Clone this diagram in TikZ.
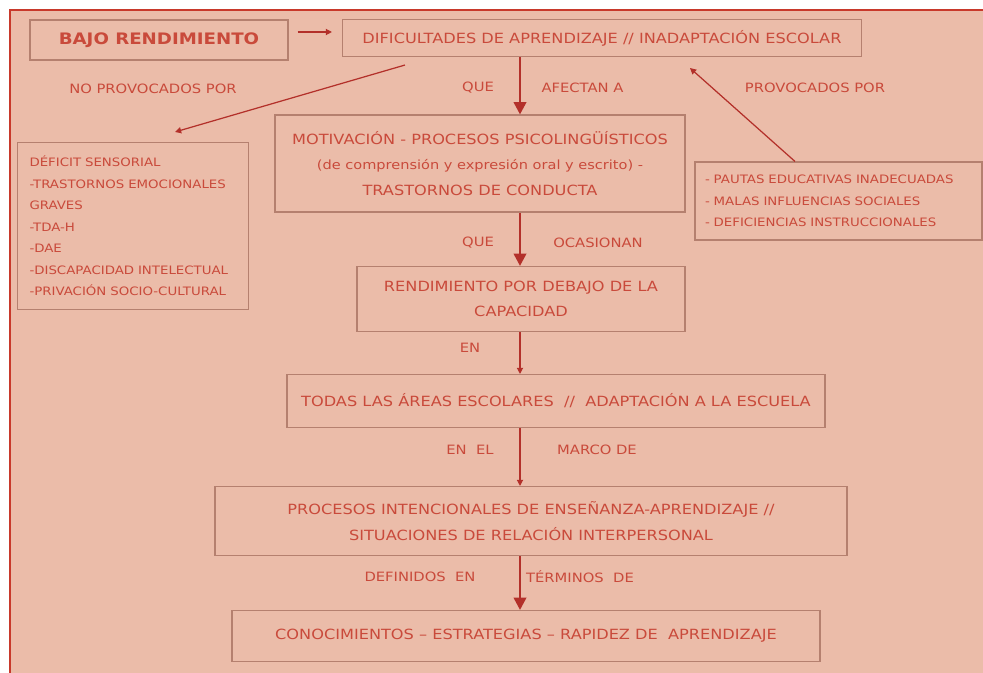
\documentclass[tikz,border=0pt]{standalone}
\usepackage{fontspec}
\setmainfont{DejaVu Sans}[FakeStretch=1.15]
\usetikzlibrary{arrows.meta,calc}
\definecolor{fondo}{HTML}{EBBCA9}
\definecolor{marco}{HTML}{C8392B}
\definecolor{letra}{HTML}{C94A3B}
\definecolor{borde}{HTML}{B5806F}
\definecolor{flecha}{HTML}{B3302A}
\tikzset{
	caja/.style={draw=borde, line width=0.6pt, text=letra, align=center, inner sep=2pt, font=\fontsize{8}{14.5}\selectfont},
	lista/.style={caja, align=left, inner ysep=2pt, font=\fontsize{6.6}{12.2}\selectfont},
	rotulo/.style={text=letra, inner sep=1pt, font=\fontsize{7.3}{10}\selectfont},
	gruesa/.style={draw=flecha, line width=1.5pt, -{Triangle[width=7pt,length=7pt]}},
	fina/.style={draw=flecha, line width=0.7pt, -{Triangle[width=3.5pt,length=3.5pt]}},
}
\begin{document}
\begin{tikzpicture}
			%%%%% START %%%%%
			\useasboundingbox (0, 0) rectangle (19.66, -13.46);
			\fill[fondo] (0.2, -0.2) rectangle (19.66, -13.46);
			\draw[marco, line width=1.7pt] (0.2, -13.46) -- (0.2, -0.2) -- (19.66, -0.2);
			
			% cajas
			\node[caja, minimum width=5.16cm, minimum height=0.8cm, font=\fontsize{9}{11}\selectfont\bfseries] (bajo) at (3.18, -0.8) {BAJO RENDIMIENTO};
			\node[caja, minimum width=10.38cm, minimum height=0.74cm] (dific) at (12.04, -0.76) {DIFICULTADES DE APRENDIZAJE // INADAPTACIÓN ESCOLAR};
			\node[caja, minimum width=8.2cm, minimum height=1.94cm] (motiv) at (9.6, -3.27) {MOTIVACIÓN - PROCESOS PSICOLINGÜÍSTICOS\\{\fontsize{7.2}{14.5}\selectfont(de comprensión y expresión oral y escrito) -}\\TRASTORNOS DE CONDUCTA};
			\node[lista, minimum height=3.34cm, inner xsep=0.24cm, text width=4.14cm] (defic) at (2.66, -4.52) {DÉFICIT SENSORIAL\\-TRASTORNOS EMOCIONALES\\GRAVES\\-TDA-H\\-DAE\\-DISCAPACIDAD INTELECTUAL\\-PRIVACIÓN SOCIO-CULTURAL};
			\node[lista, minimum height=1.56cm, inner xsep=0.2cm, text width=5.34cm] (pautas) at (16.77, -4.02) {- PAUTAS EDUCATIVAS INADECUADAS\\- MALAS INFLUENCIAS SOCIALES\\- DEFICIENCIAS INSTRUCCIONALES};
			\node[caja, minimum width=6.56cm, minimum height=1.3cm] (rend) at (10.42, -5.98) {RENDIMIENTO POR DEBAJO DE LA\\CAPACIDAD};
			\node[caja, minimum width=10.76cm, minimum height=1.06cm] (todas) at (11.12, -8.02) {TODAS LAS ÁREAS ESCOLARES \ // \ ADAPTACIÓN A LA ESCUELA};
			\node[caja, minimum width=12.64cm, minimum height=1.38cm] (proc) at (10.62, -10.42) {PROCESOS INTENCIONALES DE ENSEÑANZA-APRENDIZAJE //\\SITUACIONES DE RELACIÓN INTERPERSONAL};
			\node[caja, minimum width=11.76cm, minimum height=1.02cm] (conoc) at (10.52, -12.72) {CONOCIMIENTOS -- ESTRATEGIAS -- RAPIDEZ DE \ APRENDIZAJE};
			
			% rotulos
			\node[rotulo] (noprov) at (3.06, -1.78) {NO PROVOCADOS POR};
			\node[rotulo] (que1) at (9.56, -1.76) {QUE};
			\node[rotulo] (afectan) at (11.65, -1.76) {AFECTAN A};
			\node[rotulo] (prov) at (16.3, -1.76) {PROVOCADOS POR};
			\node[rotulo] (que2) at (9.56, -4.86) {QUE};
			\node[rotulo] (ocasionan) at (11.96, -4.86) {OCASIONAN};
			\node[rotulo] (en) at (9.4, -6.96) {EN};
			\node[rotulo] (enel) at (9.4, -9.0) {EN \ EL};
			\node[rotulo] (marcode) at (11.94, -9.0) {MARCO DE};
			\node[rotulo] (definidos) at (8.4, -11.54) {DEFINIDOS \ EN};
			\node[rotulo] (terminos) at (11.6, -11.54) {TÉRMINOS \ DE};
			
			% flechas
			\coordinate (eje) at (10.4, 0);
			\draw[fina] ([xshift=0.18cm, yshift=0.16cm]bajo.east) -- ([xshift=-0.2cm, yshift=0.12cm]dific.west);
			\draw[fina] ([shift={(-3.94, -0.16)}]dific.south) -- ([shift={(0.84, 0.2)}]defic.north);
			\draw[fina] ([xshift=-0.87cm]pautas.north) -- ([shift={(1.76, -0.22)}]dific.south);
			\draw[gruesa] (dific.south -| eje) -- (motiv.north -| eje);
			\draw[gruesa] (motiv.south -| eje) -- (rend.north -| eje);
			\draw[fina] (rend.south -| eje) -- (todas.north -| eje);
			\draw[fina] (todas.south -| eje) -- (proc.north -| eje);
			\draw[gruesa] (proc.south -| eje) -- (conoc.north -| eje);
			%%%%% END %%%%%
\end{tikzpicture}
\end{document}
